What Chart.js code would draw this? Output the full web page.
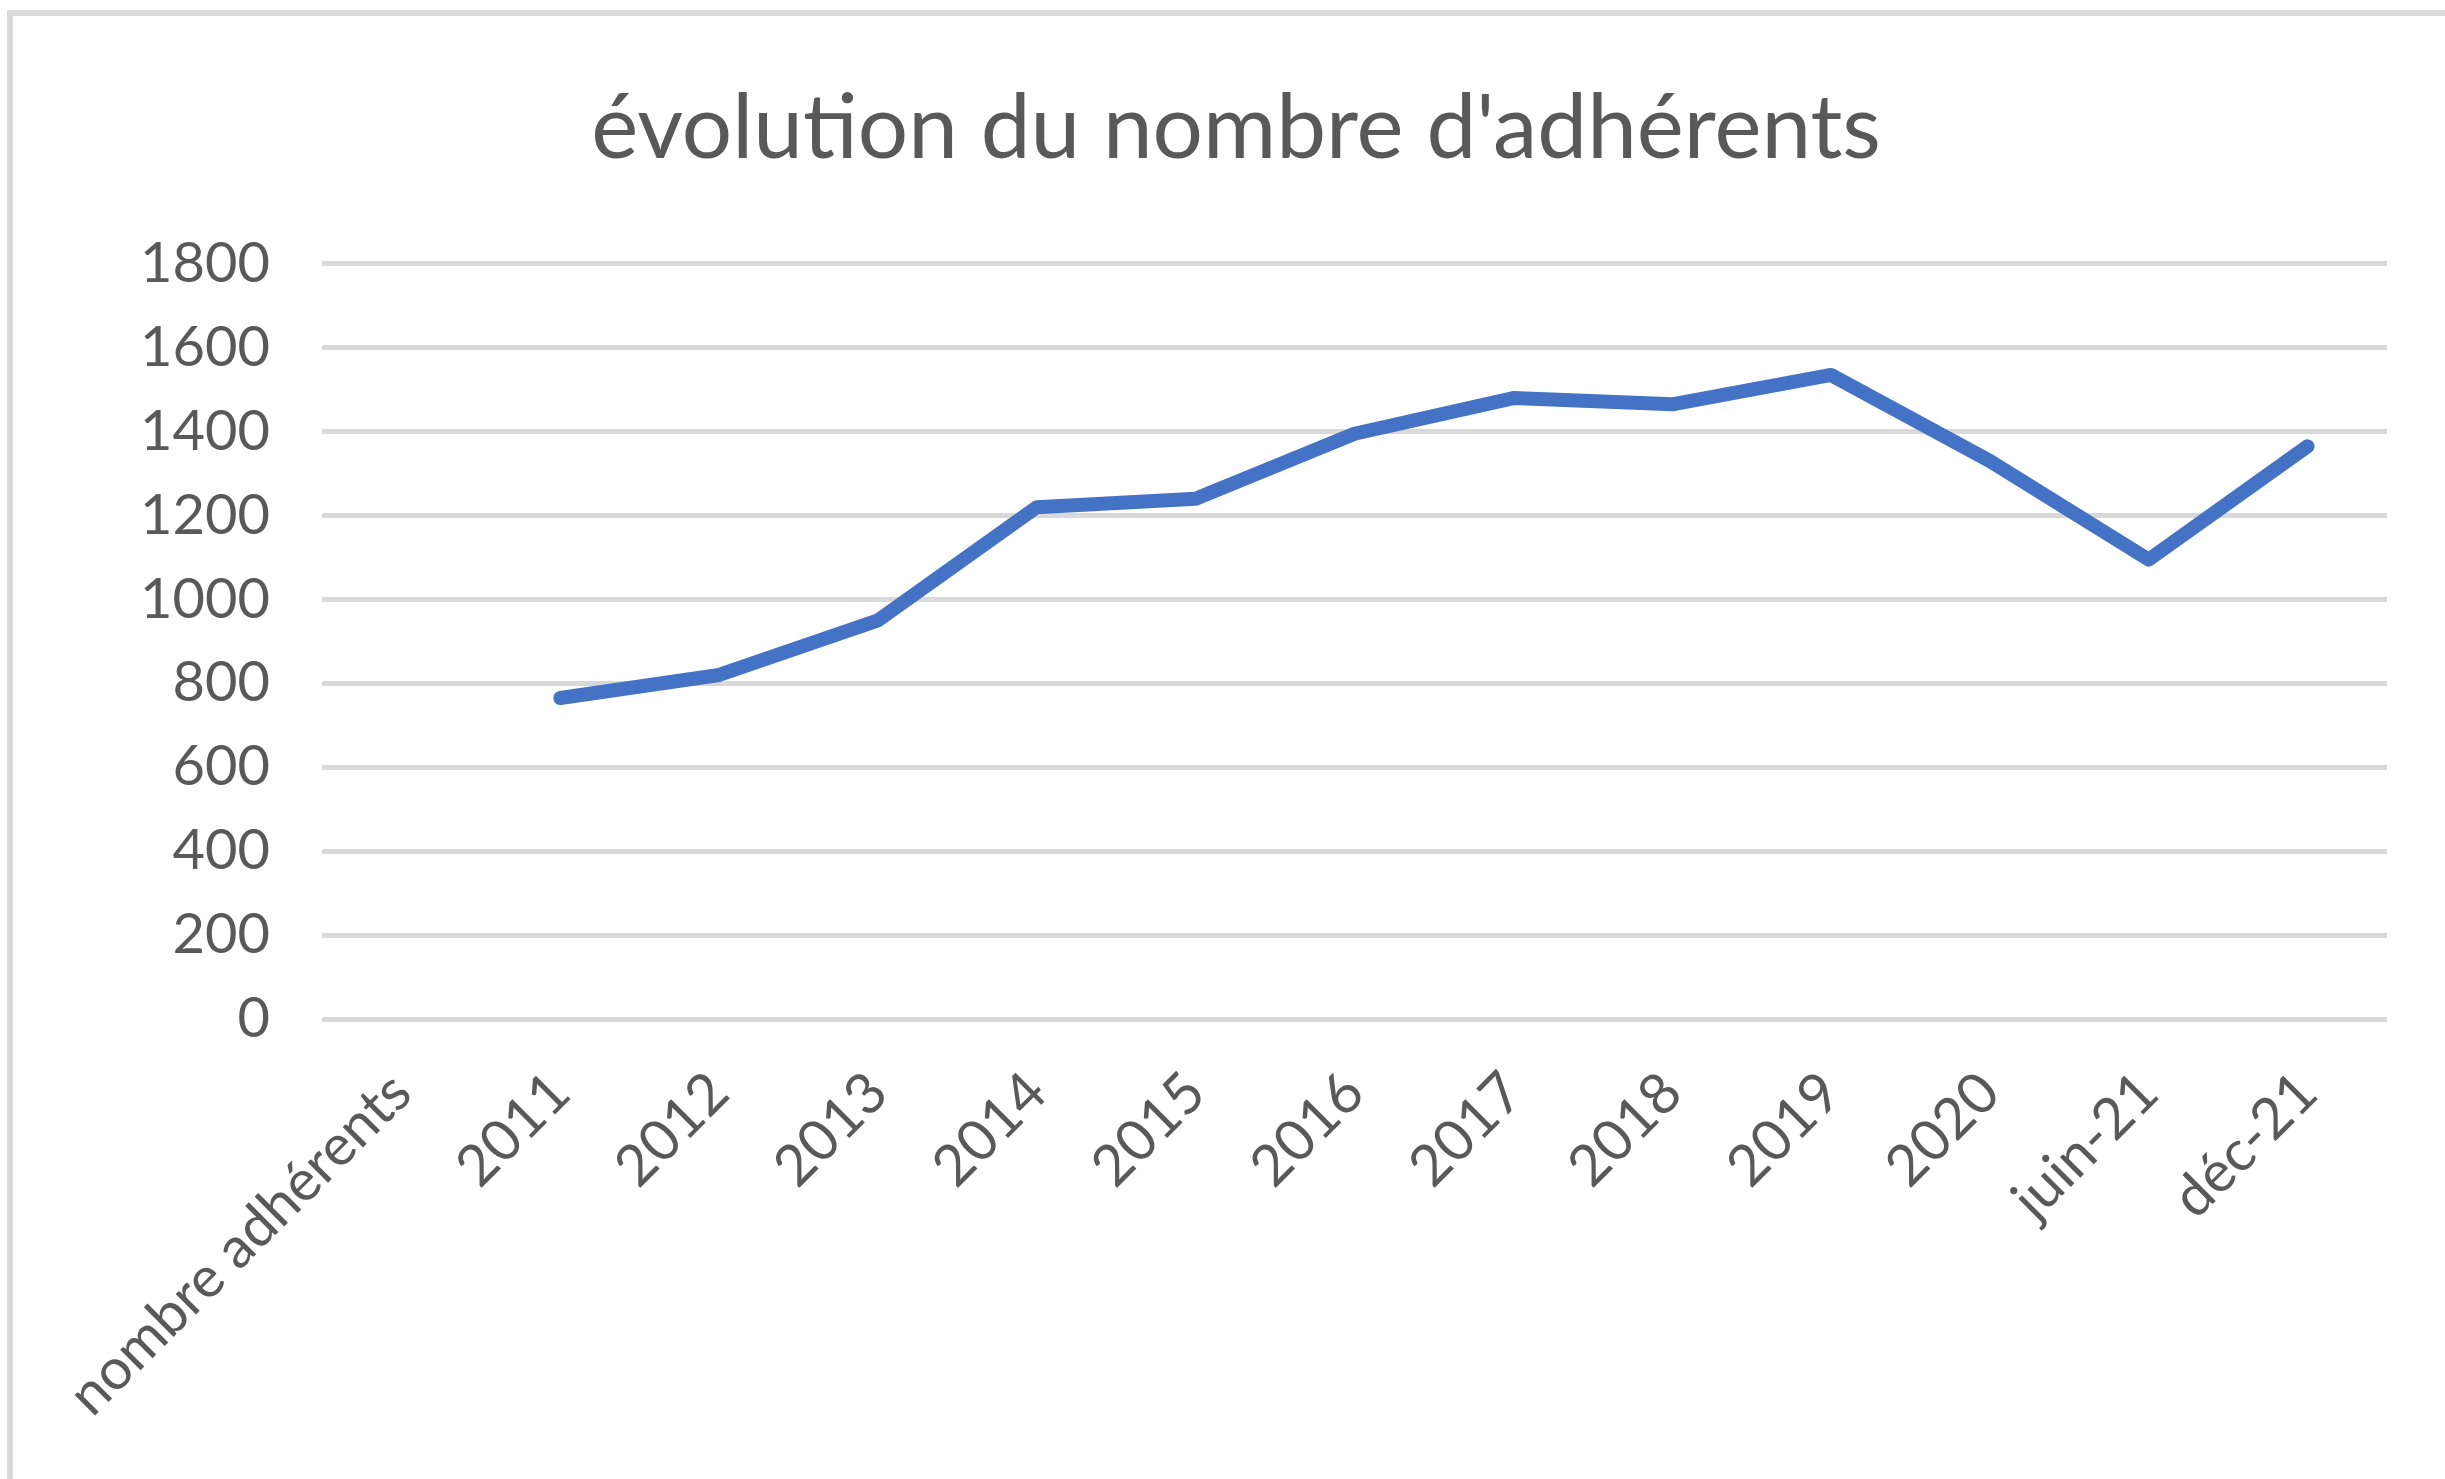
<!DOCTYPE html>
<html>
<head>
<meta charset="utf-8">
<script src="https://cdn.jsdelivr.net/npm/chart.js@4.4.1/dist/chart.umd.min.js"></script>
<style>
    html, body { margin: 0; padding: 0; background: #fff; overflow: hidden; }
    #frame {
        position: absolute; left: 7px; top: 10px;
        width: 2600px; height: 1600px;
        border-left: 6px solid #d9d9d9; border-top: 6px solid #d9d9d9;
    }
    #chart { position: absolute; left: 0; top: 0; }
</style>
</head>
<body>
<div id="frame"></div>
<canvas id="chart" width="2445" height="1479"></canvas>
<script>
// données
const labels = ["nombre adhérents", "2011", "2012", "2013", "2014", "2015", "2016",
    "2017", "2018", "2019", "2020", "juin-21", "déc-21"];
const adherents = [null, 765, 820, 950, 1220, 1240, 1395, 1480, 1465, 1535, 1330, 1095, 1365];
const yTicks = [0, 200, 400, 600, 800, 1000, 1200, 1400, 1600, 1800];

const textColor = "#595959";
const fontFamily = "Lato, 'Open Sans', sans-serif";

const ctx = document.getElementById("chart");

new Chart(ctx, {
    type: "line",
    data: {
        labels: labels,
        datasets: [
            {
                label: "nombre adhérents",
                data: adherents,
                borderColor: "#4472C4",
                backgroundColor: "#4472C4",
                borderWidth: 14,
                borderCapStyle: "round",
                borderJoinStyle: "round",
                pointRadius: 0,
                tension: 0,
            },
        ],
    },
    options: {
        responsive: false,
        animation: false,
        layout: {
            padding: { top: 0, right: 58, bottom: 0, left: 85 },
        },
        plugins: {
            legend: { display: false },
            tooltip: { enabled: false },
            title: {
                display: true,
                text: "évolution du nombre d'adhérents",
                color: textColor,
                font: { family: fontFamily, size: 89, weight: "normal" },
                padding: { top: 76, bottom: 81 },
            },
        },
        scales: {
            x: {
                offset: true,
                grid: { display: false },
                border: { display: false },
                ticks: {
                    color: textColor,
                    font: { family: fontFamily, size: 57 },
                    minRotation: 45,
                    maxRotation: 45,
                    autoSkip: false,
                    padding: 32,
                },
                afterFit: (scale) => {
                    scale.height = 1479 - 1019;
                },
            },
            y: {
                min: 0,
                max: 1800,
                afterBuildTicks: (scale) => {
                    scale.ticks = yTicks.map((v) => ({ value: v }));
                },
                grid: {
                    color: "#d9d9d9",
                    lineWidth: 5,
                    drawTicks: false,
                },
                border: { display: false },
                ticks: {
                    color: textColor,
                    font: { family: fontFamily, size: 56 },
                    padding: 52,
                    callback: (value) => String(value),
                },
                afterFit: (scale) => {
                    scale.width = 322 - 85;
                },
            },
        },
    },
});
</script>
</body>
</html>
